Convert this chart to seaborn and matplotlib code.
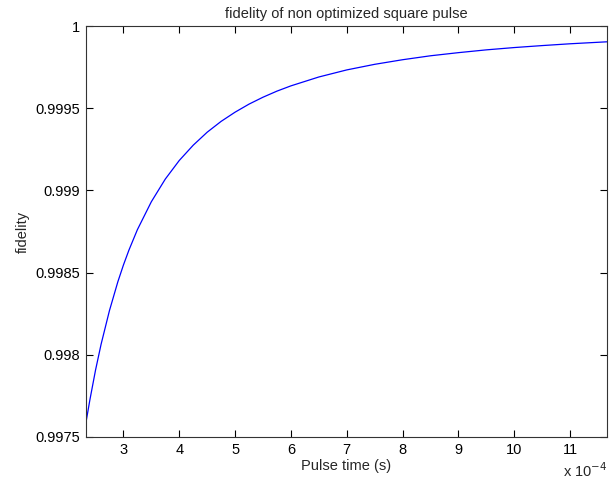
import matplotlib
matplotlib.use("Agg")
import matplotlib.pyplot as plt
import matplotlib.ticker as mticker
import pandas as pd
import seaborn as sns

# pulse time in seconds, fidelity
pulse_time = [2.33e-4, 2.4e-4, 2.5e-4, 2.6e-4, 2.75e-4, 2.9e-4, 3.0e-4, 3.1e-4,
              3.25e-4, 3.5e-4, 3.75e-4, 4.0e-4, 4.25e-4, 4.5e-4, 4.75e-4, 5.0e-4,
              5.25e-4, 5.5e-4, 5.75e-4, 6.0e-4, 6.5e-4, 7.0e-4, 7.5e-4, 8.0e-4,
              8.5e-4, 9.0e-4, 9.5e-4, 10.0e-4, 10.5e-4, 11.0e-4, 11.66e-4]
fidelity = [0.99759, 0.997727, 0.997906, 0.998064, 0.998269, 0.998444, 0.998546, 0.998638,
            0.998761, 0.998931, 0.999069, 0.999182, 0.999275, 0.999354, 0.999420, 0.999476,
            0.999525, 0.999567, 0.999604, 0.999636, 0.999690, 0.999733, 0.999767, 0.999795,
            0.999819, 0.999838, 0.999855, 0.999869, 0.999881, 0.999892, 0.999904]
y_ticks = [0.9975, 0.998, 0.9985, 0.999, 0.9995, 1.0]
x_ticks = [3e-4, 4e-4, 5e-4, 6e-4, 7e-4, 8e-4, 9e-4, 10e-4, 11e-4]

sns.set_style("ticks")
plt.rcParams["font.family"] = ["Liberation Sans", "DejaVu Sans"]
plt.rcParams["font.size"] = 10.5

df = pd.DataFrame({"t": pulse_time, "f": fidelity})

fig = plt.figure(figsize=(6.1, 4.91), dpi=100)
ax = fig.add_axes([0.141, 0.110, 0.854, 0.837])
sns.lineplot(data=df, x="t", y="f", color="#0000ff", linewidth=0.9, ax=ax)

ax.set_xlim(pulse_time[0], pulse_time[-1])
ax.set_ylim(0.9975, 1.0)
ax.set_xticks(x_ticks)
ax.set_yticks(y_ticks)
ax.xaxis.set_major_formatter(mticker.FuncFormatter(lambda v, p: f"{v * 1e4:g}"))
ax.yaxis.set_major_formatter(mticker.FuncFormatter(lambda v, p: f"{v:g}"))
ax.tick_params(direction="in", top=True, right=True, length=5, width=0.8,
               colors="black", labelsize=10.5, pad=4)
for s in ax.spines.values():
    s.set_visible(True)
    s.set_color("#333333")
    s.set_linewidth(0.8)

ax.set_title("fidelity of non optimized square pulse", fontsize=10.5, pad=6)
ax.set_xlabel("Pulse time (s)", fontsize=10.5, labelpad=2)
ax.set_ylabel("fidelity", fontsize=10.5, labelpad=4)
fig.text(0.995, 0.022, "x 10$^{-4}$", ha="right", va="bottom", fontsize=10.5)

fig.savefig("out.png", dpi=100)
